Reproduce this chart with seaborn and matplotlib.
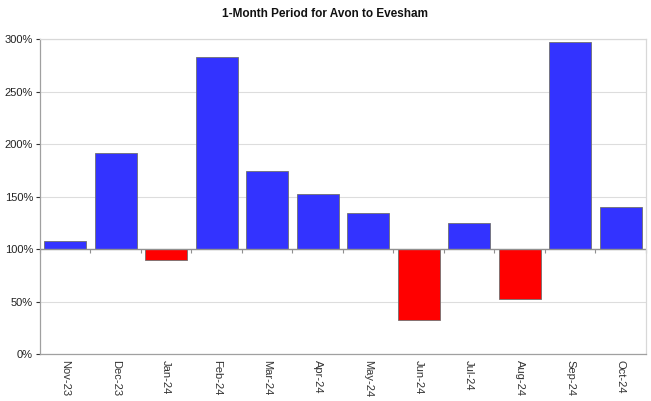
import numpy as np
import pandas as pd
import matplotlib
matplotlib.use("Agg")
import matplotlib.pyplot as plt
from matplotlib.ticker import FuncFormatter, FixedLocator
import seaborn as sns

# ── Data (percent of normal) ────────────────────────────────────────────────
months = ['Nov-23', 'Dec-23', 'Jan-24', 'Feb-24', 'Mar-24', 'Apr-24',
          'May-24', 'Jun-24', 'Jul-24', 'Aug-24', 'Sep-24', 'Oct-24']
values = [108, 191, 90, 283, 174, 152, 134, 32, 125, 52, 297, 140]
BASE = 100

df = pd.DataFrame({'month': months, 'value': values})
df['delta'] = df['value'] - BASE
df['side'] = np.where(df['delta'] >= 0, 'above', 'below')

sns.set_style('white')
plt.rcParams['font.family'] = ['Liberation Sans', 'DejaVu Sans']

fig = plt.figure(figsize=(6.51, 4.01), dpi=100)
ax = fig.add_axes([0.0614, 0.1172, 0.9306, 0.7855])

sns.barplot(data=df, x='month', y='delta', hue='side',
            palette={'above': '#3333FF', 'below': '#FF0000'},
            saturation=1, width=0.83, edgecolor='#707070', linewidth=0.6,
            legend=False, ax=ax)

ax.set_ylim(-100, 200)
ax.set_xlim(-0.5, len(months) - 0.5)
ax.yaxis.set_major_locator(FixedLocator(np.arange(-100, 201, 50)))
ax.yaxis.set_major_formatter(FuncFormatter(lambda v, p: f'{v + BASE:.0f}%'))
ax.grid(axis='y', color='#dddddd', linewidth=0.8)
ax.set_axisbelow(True)
ax.axhline(0, color='#909090', linewidth=1.0, zorder=1)

ax.set_xlabel('')
ax.set_ylabel('')
ax.tick_params(axis='y', labelsize=8, colors='#333333', length=3,
               width=0.8, direction='out', left=True, pad=2)
ax.tick_params(axis='x', labelsize=8, colors='#333333', length=0,
               pad=4, labelrotation=-90)
for lbl in ax.get_yticklabels():
    lbl.set_color('#222222')

for s in ['top', 'right']:
    ax.spines[s].set_color('#d8d8d8')
for s in ['left', 'bottom']:
    ax.spines[s].set_color('#a0a0a0')
for s in ax.spines.values():
    s.set_linewidth(0.9)

# small tick marks on the 100% line at category boundaries
sec = ax.secondary_xaxis(1 / 3)
sec.set_xticks(np.arange(-0.5, len(months), 1.0))
sec.tick_params(length=3, width=0.8, color='#909090', labelbottom=False,
                labeltop=False, direction='out')
sec.spines['bottom'].set_visible(False)
sec.spines['top'].set_visible(False)

fig.suptitle('1-Month Period for Avon to Evesham', fontsize=8.5,
             fontweight='bold', x=0.5, y=0.98, color='#111111')

fig.savefig('out.png', dpi=100)
